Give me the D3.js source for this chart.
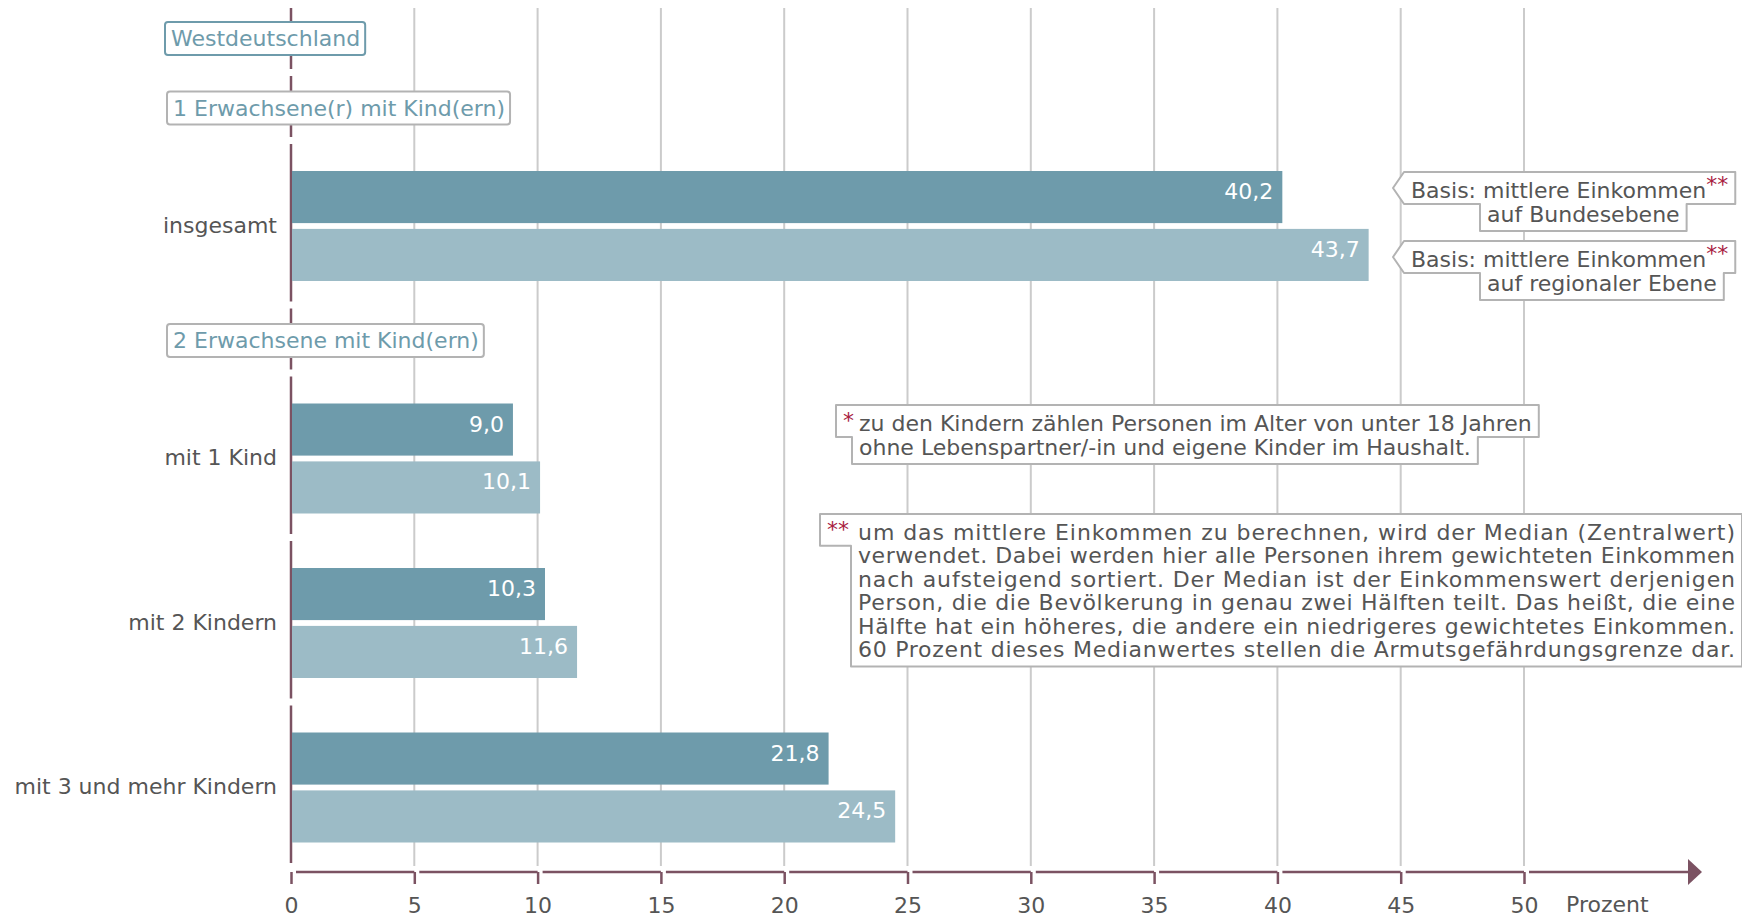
<!DOCTYPE html>
<html>
<head>
<meta charset="utf-8">
<script src="https://cdn.jsdelivr.net/npm/d3@7"></script>
<style>
  body { margin: 0; background: #fff; }
  svg { display: block; font-family: "DejaVu Sans", Verdana, sans-serif; }
</style>
</head>
<body>
<script>
// chart values
var categories = ["insgesamt", "mit 1 Kind", "mit 2 Kindern", "mit 3 und mehr Kindern"];
var bundValues = [40.2, 9.0, 10.3, 21.8];       // Basis: Bundesebene
var regionalValues = [43.7, 10.1, 11.6, 24.5];  // Basis: regionale Ebene
var regionLabel = "Westdeutschland";
var groupHeaders = ["1 Erwachsene(r) mit Kind(ern)", "2 Erwachsene mit Kind(ern)"];
var xTicks = [0, 5, 10, 15, 20, 25, 30, 35, 40, 45, 50];
var unitLabel = "Prozent";
var legendLines = [
  ["Basis: mittlere Einkommen", "auf Bundesebene"],
  ["Basis: mittlere Einkommen", "auf regionaler Ebene"]
];
var note1Lines = [
  "zu den Kindern zählen Personen im Alter von unter 18 Jahren",
  "ohne Lebenspartner/-in und eigene Kinder im Haushalt."
];
var note2Lines = [
  "um das mittlere Einkommen zu berechnen, wird der Median (Zentralwert)",
  "verwendet. Dabei werden hier alle Personen ihrem gewichteten Einkommen",
  "nach aufsteigend sortiert. Der Median ist der Einkommenswert derjenigen",
  "Person, die die Bevölkerung in genau zwei Hälften teilt. Das heißt, die eine",
  "Hälfte hat ein höheres, die andere ein niedrigeres gewichtetes Einkommen.",
  "60 Prozent dieses Medianwertes stellen die Armutsgefährdungsgrenze dar."
];

var W = 1742, H = 918;
var darkBar = "#6e9bab", lightBar = "#9cbbc6", axisCol = "#7b5262",
    gridCol = "#cbcbcb", textCol = "#555", teal = "#6e9bab", boxCol = "#b3b3b3", starCol = "#a8213f";
var fs = 22;
var mid = fs * 0.35; // baseline shift to center text on a y

var svg = d3.select("body").append("svg")
    .attr("width", W)
    .attr("height", H);

var x = d3.scaleLinear().domain([0, 50]).range([291, 1524]);
var axisY = 872;

// rows: region box, group headers, categories
var rows = [
  {kind: "region", label: regionLabel},
  {kind: "group", label: groupHeaders[0]},
  {kind: "cat", i: 0},
  {kind: "group", label: groupHeaders[1]},
  {kind: "cat", i: 1},
  {kind: "cat", i: 2},
  {kind: "cat", i: 3}
];
var top0 = 8, headH = 61, catH = 157.5, rowGap = 7;
var yy = top0;
rows.forEach(function(r) {
  r.top = yy;
  r.h = r.kind == "cat" ? catH : headH;
  yy += r.h + rowGap;
});

// grid
svg.append("g").selectAll("line")
    .data(xTicks.filter(function(t) { return t > 0; }))
  .enter().append("line")
    .attr("x1", function(d) { return x(d); })
    .attr("x2", function(d) { return x(d); })
    .attr("y1", top0)
    .attr("y2", 866)
    .attr("stroke", gridCol)
    .attr("stroke-width", 2);

// left axis, one segment per row
svg.append("g").selectAll("line")
    .data(rows)
  .enter().append("line")
    .attr("x1", x(0)).attr("x2", x(0))
    .attr("y1", function(d) { return d.top; })
    .attr("y2", function(d) { return d.top + d.h; })
    .attr("stroke", axisCol)
    .attr("stroke-width", 2.5);

// bars
var inner = d3.scaleBand().domain(["bund", "regional"]).range([27, 137]).paddingInner(0.1);
var fmt = function(v) { return d3.format(".1f")(v).replace(".", ","); };

rows.filter(function(r) { return r.kind == "cat"; }).forEach(function(r) {
  var g = svg.append("g");
  var vals = [
    {key: "bund", v: bundValues[r.i], c: darkBar},
    {key: "regional", v: regionalValues[r.i], c: lightBar}
  ];
  g.selectAll("rect").data(vals).enter().append("rect")
      .attr("x", x(0) + 1)
      .attr("y", function(d) { return r.top + inner(d.key); })
      .attr("width", function(d) { return x(d.v) - x(0) - 1; })
      .attr("height", inner.bandwidth())
      .attr("fill", function(d) { return d.c; });
  g.selectAll("text.val").data(vals).enter().append("text")
      .attr("class", "val")
      .attr("x", function(d) { return x(d.v) - 9; })
      .attr("y", function(d) { return r.top + inner(d.key) + 28; })
      .attr("text-anchor", "end")
      .attr("font-size", fs)
      .attr("fill", "#fff")
      .text(function(d) { return fmt(d.v); });
  g.append("text")
      .attr("x", 277)
      .attr("y", r.top + inner("regional") - 4 + mid)
      .attr("text-anchor", "end")
      .attr("font-size", fs)
      .attr("fill", textCol)
      .text(categories[r.i]);
});

// header boxes
rows.filter(function(r) { return r.kind != "cat"; }).forEach(function(r) {
  var g = svg.append("g");
  var cy = r.top + r.h / 2 + (r.kind == "region" ? 0 : 1.5);
  var tx = r.kind == "region" ? 171 : 173;
  var rect = g.append("rect");
  var t = g.append("text")
      .attr("x", tx)
      .attr("y", cy + mid)
      .attr("font-size", fs)
      .attr("fill", teal)
      .text(r.label);
  var bb = t.node().getBBox();
  rect.attr("x", tx - 6)
      .attr("y", cy - 16.5)
      .attr("width", bb.width + 11)
      .attr("height", 33)
      .attr("rx", 3)
      .attr("fill", "#fff")
      .attr("stroke", r.kind == "region" ? teal : boxCol)
      .attr("stroke-width", 2);
});

// bottom axis
var xAxis = svg.append("g")
    .attr("transform", "translate(0," + axisY + ")")
    .call(d3.axisBottom(x).tickValues(xTicks).tickSize(12).tickPadding(13).tickFormat(d3.format("d")));
xAxis.select(".domain").remove();
xAxis.attr("font-family", null).attr("font-size", fs);
xAxis.selectAll(".tick line").attr("stroke", axisCol).attr("stroke-width", 2.5);
xAxis.selectAll(".tick text").attr("fill", textCol);

var segs = d3.pairs(xTicks);
svg.append("g").selectAll("path")
    .data(segs)
  .enter().append("path")
    .attr("d", function(d) { return "M" + (x(d[0]) + 5) + "," + axisY + "H" + x(d[1]); })
    .attr("fill", "none")
    .attr("stroke", axisCol)
    .attr("stroke-width", 2.5);
svg.append("path")
    .attr("d", "M" + (x(50) + 5) + "," + axisY + "H1690")
    .attr("stroke", axisCol)
    .attr("stroke-width", 2.5);
svg.append("path")
    .attr("d", "M1688," + (axisY - 13) + "L1702," + axisY + "L1688," + (axisY + 13) + "Z")
    .attr("fill", axisCol);
svg.append("text")
    .attr("x", 1566)
    .attr("y", axisY + 32 + mid)
    .attr("font-size", fs)
    .attr("fill", textCol)
    .text(unitLabel);

// stepped boxes for legend and notes
function stepBox(lines, pointer) {
  var g = svg.append("g");
  var path = g.append("path");
  var pad = 7, padT = 18, padB = 17;
  var spans = lines.map(function(line) {
    var lg = g.append("g");
    line.items.forEach(function(it) {
      var t = lg.append("text")
          .attr("x", it.x)
          .attr("y", line.y + mid)
          .attr("font-size", fs)
          .attr("fill", textCol);
      if (it.len) t.attr("textLength", it.len).attr("lengthAdjust", "spacing");
      it.parts.forEach(function(p) {
        var s = t.append("tspan")
            .attr("fill", p.fill || textCol)
            .text(p.t);
        if (p.dy) s.attr("dy", p.dy);
      });
    });
    var bb = lg.node().getBBox();
    return {l: bb.x - pad, r: bb.x + bb.width + pad, y: line.y};
  });
  var n = spans.length;
  var topY = spans[0].y - padT, botY = spans[n - 1].y + padB;
  var steps = spans.map(function(s, k) {
    return k < n - 1 ? (s.y + spans[k + 1].y) / 2 + 2 : botY;
  });
  var pts = [[spans[0].l, topY], [spans[0].r, topY]];
  spans.forEach(function(s, k) {
    pts.push([s.r, steps[k]]);
    if (k < n - 1) pts.push([spans[k + 1].r, steps[k]]);
  });
  pts.push([spans[n - 1].l, botY]);
  for (var k = n - 1; k > 0; k--) {
    pts.push([spans[k].l, steps[k - 1]]);
    pts.push([spans[k - 1].l, steps[k - 1]]);
  }
  if (pointer) pts.push([spans[0].l - 11, (topY + steps[0]) / 2]);
  path.attr("d", "M" + pts.join("L") + "Z")
      .attr("fill", "#fff")
      .attr("stroke", boxCol)
      .attr("stroke-width", 2)
      .attr("stroke-linejoin", "round");
}

legendLines.forEach(function(ll, i) {
  var y1 = i == 0 ? 190 : 259;
  stepBox([
    {y: y1, items: [{x: 1411, parts: [{t: ll[0]}, {t: "**", fill: starCol, dy: -6}]}]},
    {y: y1 + 24, items: [{x: 1487, parts: [{t: ll[1]}]}]}
  ], true);
});

stepBox(note1Lines.map(function(s, k) {
  var items = [{x: 859, parts: [{t: s}]}];
  if (k == 0) items.unshift({x: 843, parts: [{t: "*", fill: starCol, dy: -3}]});
  return {y: 423 + k * 24, items: items};
}), false);

stepBox(note2Lines.map(function(s, k) {
  var items = [{x: 858, len: 877, parts: [{t: s}]}];
  if (k == 0) items.unshift({x: 827, parts: [{t: "**", fill: starCol, dy: -3}]});
  return {y: 532 + k * 23.5, items: items};
}), false);
</script>
</body>
</html>
